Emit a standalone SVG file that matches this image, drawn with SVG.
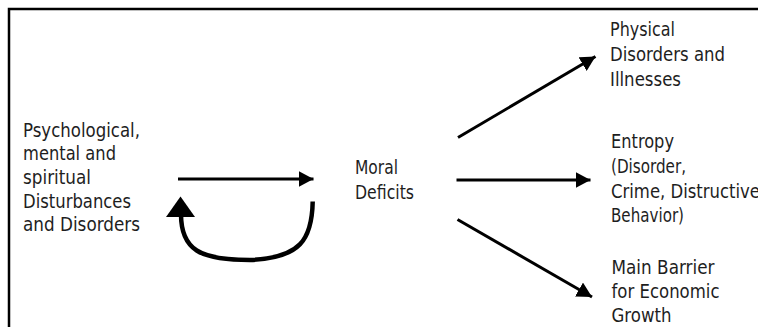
<svg xmlns="http://www.w3.org/2000/svg" width="758" height="327" viewBox="0 0 758 327">
<defs>
<style>
text{font-family:"DejaVu Sans","Liberation Sans",sans-serif;font-size:19px;fill:#1e1e1e}
.ln{stroke:#000;stroke-width:3;fill:none}
.loop{stroke:#000;stroke-width:4.5;fill:none;stroke-linecap:butt}
</style>
<marker id="ah" markerUnits="userSpaceOnUse" markerWidth="15" markerHeight="16" refX="15" refY="8" orient="auto" viewBox="0 0 15 16">
<path d="M0,0 L15,8 L0,16 z" fill="#000"/>
</marker>
</defs>
<rect width="758" height="327" fill="#fff"/>
<path d="M9 327 V9 H758" fill="none" stroke="#000" stroke-width="2.5"/>
<g id="source">
<text x="23" y="136.5" textLength="117" lengthAdjust="spacingAndGlyphs">Psychological,</text>
<text x="23" y="160" textLength="93" lengthAdjust="spacingAndGlyphs">mental and</text>
<text x="23" y="184" textLength="68" lengthAdjust="spacingAndGlyphs">spiritual</text>
<text x="23" y="207.5" textLength="108" lengthAdjust="spacingAndGlyphs">Disturbances</text>
<text x="23" y="231" textLength="117" lengthAdjust="spacingAndGlyphs">and Disorders</text>
</g>
<g id="moral">
<text x="355" y="174" textLength="43" lengthAdjust="spacingAndGlyphs">Moral</text>
<text x="355" y="199" textLength="59" lengthAdjust="spacingAndGlyphs">Deficits</text>
</g>
<g id="physical">
<text x="610" y="36" textLength="65" lengthAdjust="spacingAndGlyphs">Physical</text>
<text x="610" y="61" textLength="115" lengthAdjust="spacingAndGlyphs">Disorders and</text>
<text x="610" y="86" textLength="71" lengthAdjust="spacingAndGlyphs">Illnesses</text>
</g>
<g id="entropy">
<text x="611" y="148" textLength="63" lengthAdjust="spacingAndGlyphs">Entropy</text>
<text x="611" y="173" textLength="75" lengthAdjust="spacingAndGlyphs">(Disorder,</text>
<text x="611" y="198" textLength="149" lengthAdjust="spacingAndGlyphs">Crime, Distructive</text>
<text x="611" y="222" textLength="73" lengthAdjust="spacingAndGlyphs">Behavior)</text>
</g>
<g id="barrier">
<text x="611.5" y="273.5" textLength="103" lengthAdjust="spacingAndGlyphs">Main Barrier</text>
<text x="611.5" y="297.5" textLength="108" lengthAdjust="spacingAndGlyphs">for Economic</text>
<text x="611.5" y="321.5" textLength="60" lengthAdjust="spacingAndGlyphs">Growth</text>
</g>
<g id="connectors">
<line class="ln" x1="178" y1="179" x2="313.5" y2="179" marker-end="url(#ah)"/>
<path class="loop" d="M312.7 201.5 C312 240 300 258 250 260 C200 260 181 250 181 214"/>
<polygon points="180.5,196.5 166,217 195,217" fill="#000"/>
<line class="ln" x1="458" y1="137.5" x2="595.5" y2="56.5" marker-end="url(#ah)"/>
<line class="ln" x1="456.5" y1="180" x2="590.5" y2="180" marker-end="url(#ah)"/>
<line class="ln" x1="457.5" y1="219.5" x2="592" y2="297" marker-end="url(#ah)"/>
</g>
</svg>
